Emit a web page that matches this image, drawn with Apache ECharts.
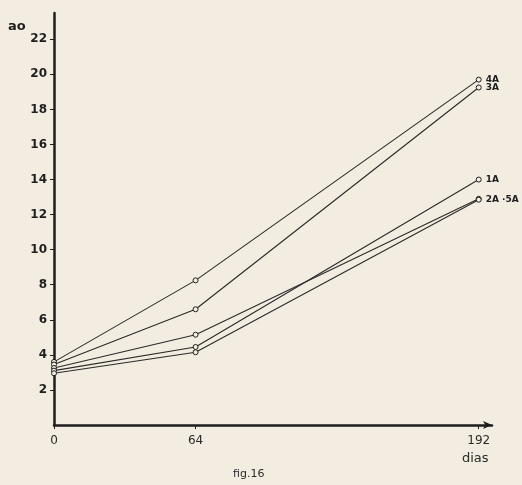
<!DOCTYPE html>
<html>
<head>
<meta charset="utf-8">
<script src="https://cdn.jsdelivr.net/npm/echarts@6/dist/echarts.min.js"></script>
<style>
html,body{margin:0;padding:0;background:#f2ede0;}
#c{width:522px;height:485px;}
</style>
</head>
<body>
<div id="c"></div>
<script>
const days = [0, 64, 192];
const s4A = [3.6, 8.25, 19.7];
const s3A = [3.45, 6.6, 19.25];
const s5A = [3.25, 5.15, 12.9];
const s1A = [3.1, 4.45, 14.0];
const s2A = [2.95, 4.15, 12.85];
const yTickValues = [2, 4, 6, 8, 10, 12, 14, 16, 18, 20, 22];
const xTickValues = [0, 64, 192];
const endLabels = {'4A': '4A', '3A': '3A', '1A': '1A', '2A': '2A ·5A', '5A': ''};

const BG = '#f2ede0';
const INK = '#1e1e1e';

function mk(name, vals) {
  return {
    type: 'line',
    name: name,
    data: vals.map((v, i) => {
      const d = { value: [days[i], v] };
      if (i === vals.length - 1 && endLabels[name]) {
        d.label = {
          show: true, position: 'right', distance: 4,
          formatter: endLabels[name],
          fontSize: 9, fontWeight: 'bold', color: INK,
          fontFamily: 'DejaVu Sans'
        };
      }
      return d;
    }),
    symbol: 'circle',
    symbolSize: 5,
    lineStyle: { color: '#2a2a2a', width: 1.1 },
    itemStyle: { color: BG, borderColor: INK, borderWidth: 1 },
    z: 3,
    animation: false
  };
}

const chart = echarts.init(document.getElementById('c'));
chart.setOption({
  backgroundColor: BG,
  animation: false,
  grid: { left: 54, right: 30, top: 13, bottom: 60 },
  xAxis: {
    type: 'value', min: 0, max: 198,
    splitLine: { show: false },
    axisLine: { lineStyle: { color: INK, width: 2.5 }, symbol: ['none', 'arrow'], symbolSize: [6, 9] },
    axisTick: { customValues: xTickValues, length: 4, inside: false, lineStyle: { color: INK, width: 1 } },
    axisLabel: { customValues: xTickValues, margin: 10, fontSize: 12, color: '#2a2a2a', fontFamily: 'DejaVu Sans' }
  },
  yAxis: {
    type: 'value', min: 0, max: 23.5,
    splitLine: { show: false },
    axisLine: { lineStyle: { color: INK, width: 2.5 } },
    axisTick: { customValues: yTickValues, length: 4, lineStyle: { color: INK, width: 1 } },
    axisLabel: { customValues: yTickValues, margin: 7, fontSize: 12, fontWeight: 'bold', color: INK, fontFamily: 'DejaVu Sans' }
  },
  series: [mk('4A', s4A), mk('3A', s3A), mk('5A', s5A), mk('1A', s1A), mk('2A', s2A)],
  graphic: [
    { type: 'text', left: 8, top: 20, style: { text: 'ao', font: 'bold 13px DejaVu Sans', fill: INK } },
    { type: 'text', left: 462, top: 452, style: { text: 'dias', font: '13px DejaVu Sans', fill: '#2a2a2a' } },
    { type: 'text', left: 233, top: 469, style: { text: 'fig.16', font: '11px DejaVu Sans', fill: '#2a2a2a' } }
  ]
});
</script>
</body>
</html>
